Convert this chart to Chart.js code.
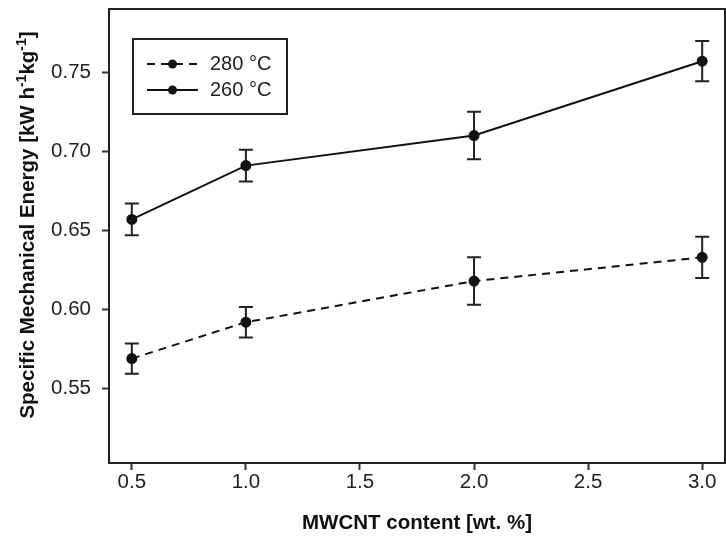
<!DOCTYPE html>
<html>
<head>
<meta charset="utf-8">
<script src="https://cdn.jsdelivr.net/npm/chart.js@4.4.1/dist/chart.umd.min.js"></script>
<style>
  html, body { margin: 0; padding: 0; background: #fff; }
  #wrap { width: 726px; height: 537px; }
</style>
</head>
<body>
<div id="wrap"><canvas id="c" width="726" height="537"></canvas></div>
<script>
// MWCNT loading (wt. %)
const mwcnt = [0.5, 1.0, 2.0, 3.0];
// Specific mechanical energy and standard deviation at each barrel temperature
const sme280 = [0.569, 0.592, 0.618, 0.633];
const err280 = [0.0096, 0.0096, 0.015, 0.013];
const sme260 = [0.657, 0.691, 0.710, 0.757];
const err260 = [0.010, 0.010, 0.015, 0.0127];
const seriesLabels = ['280 \u00B0C', '260 \u00B0C'];
const xTicks = [0.5, 1.0, 1.5, 2.0, 2.5, 3.0];
const yTicks = [0.55, 0.60, 0.65, 0.70, 0.75];
// y-axis title pieces: [text, superscript?]
const yTitleParts = [['Specific Mechanical Energy [kW h', false], ['-1', true], ['kg', false], ['-1', true], [']', false]];

const FONT = '"Liberation Sans", Arial, sans-serif';
const INK = '#111';

const toPoints = (vals, errs) => mwcnt.map((x, i) => ({ x: x, y: vals[i], err: errs[i] }));

// vertical error bars with caps, drawn under the markers
const errorBars = {
  id: 'errorBars',
  beforeDatasetsDraw(chart) {
    const { ctx, scales: { x, y } } = chart;
    ctx.save();
    ctx.strokeStyle = '#222';
    ctx.lineWidth = 2;
    chart.data.datasets.forEach(ds => {
      ds.data.forEach(p => {
        const px = x.getPixelForValue(p.x);
        const top = y.getPixelForValue(p.y + p.err);
        const bot = y.getPixelForValue(p.y - p.err);
        ctx.beginPath();
        ctx.moveTo(px, top); ctx.lineTo(px, bot);
        ctx.moveTo(px - 7, top); ctx.lineTo(px + 7, top);
        ctx.moveTo(px - 7, bot); ctx.lineTo(px + 7, bot);
        ctx.stroke();
      });
    });
    ctx.restore();
  }
};

// closed frame around the plotting area
const frame = {
  id: 'frame',
  afterDraw(chart) {
    const { ctx, chartArea: a } = chart;
    ctx.save();
    ctx.strokeStyle = '#222';
    ctx.lineWidth = 2;
    ctx.strokeRect(a.left, a.top, a.right - a.left, a.bottom - a.top);
    ctx.restore();
  }
};

// rotated y-axis title with superscript units
const yTitle = {
  id: 'yTitle',
  afterDraw(chart) {
    const { ctx, chartArea: a } = chart;
    const size = 20.5, sup = 14;
    ctx.save();
    ctx.fillStyle = '#111';
    ctx.textBaseline = 'alphabetic';
    const widths = yTitleParts.map(([t, s]) => {
      ctx.font = 'bold ' + (s ? sup : size) + 'px ' + FONT;
      return ctx.measureText(t).width;
    });
    const total = widths.reduce((p, w) => p + w, 0);
    ctx.translate(27 + size * 0.36, a.top + (a.bottom - a.top) / 2 - 11);
    ctx.rotate(-Math.PI / 2);
    let cx = -total / 2;
    yTitleParts.forEach(([t, s], i) => {
      ctx.font = 'bold ' + (s ? sup : size) + 'px ' + FONT;
      ctx.fillText(t, cx, s ? -size * 0.42 : 0);
      cx += widths[i];
    });
    ctx.restore();
  }
};

// boxed legend with line + marker samples
const boxLegend = {
  id: 'boxLegend',
  afterDraw(chart) {
    const { ctx, chartArea: a } = chart;
    const bx = a.left + 24, by = a.top + 30, bw = 154, bh = 75;
    ctx.save();
    ctx.fillStyle = '#fff';
    ctx.fillRect(bx, by, bw, bh);
    ctx.strokeStyle = '#222';
    ctx.lineWidth = 2;
    ctx.strokeRect(bx, by, bw, bh);
    chart.data.datasets.forEach((ds, i) => {
      const yy = by + 25 + i * 26;
      const x0 = bx + 14, x1 = bx + 65;
      ctx.strokeStyle = ds.borderColor;
      ctx.lineWidth = ds.borderWidth;
      ctx.setLineDash(ds.borderDash || []);
      ctx.beginPath(); ctx.moveTo(x0, yy); ctx.lineTo(x1, yy); ctx.stroke();
      ctx.setLineDash([]);
      ctx.fillStyle = ds.pointBackgroundColor;
      ctx.beginPath(); ctx.arc((x0 + x1) / 2, yy, ds.pointRadius, 0, Math.PI * 2); ctx.fill();
      ctx.fillStyle = '#222';
      ctx.font = '20px ' + FONT;
      ctx.textBaseline = 'middle';
      ctx.fillText(ds.label, bx + 77, yy);
    });
    ctx.restore();
  }
};

new Chart(document.getElementById('c'), {
  type: 'line',
  data: {
    datasets: [
      {
        label: seriesLabels[0],
        data: toPoints(sme280, err280),
        borderColor: INK, borderWidth: 2, borderDash: [8, 6],
        pointRadius: 4.5, pointBackgroundColor: INK, pointBorderColor: INK
      },
      {
        label: seriesLabels[1],
        data: toPoints(sme260, err260),
        borderColor: INK, borderWidth: 2,
        pointRadius: 4.5, pointBackgroundColor: INK, pointBorderColor: INK
      }
    ]
  },
  options: {
    responsive: false,
    animation: false,
    layout: { autoPadding: false, padding: { left: 0, right: 1, top: 9, bottom: 0 } },
    plugins: { legend: { display: false }, tooltip: { enabled: false } },
    scales: {
      x: {
        type: 'linear',
        min: 0.4, max: 3.1,
        afterBuildTicks: s => { s.ticks = xTicks.map(v => ({ value: v })); },
        afterFit: s => { s.height = 74; s.paddingLeft = 0; s.paddingRight = 0; },
        grid: { drawOnChartArea: false, drawTicks: true, tickLength: 7, tickWidth: 2, color: '#333' },
        border: { display: false },
        ticks: { color: '#222', font: { family: FONT, size: 20.5 }, padding: 0, callback: v => v.toFixed(1) },
        title: { display: true, text: 'MWCNT content [wt. %]', color: '#111', font: { family: FONT, size: 20.5, weight: 'bold' }, padding: { top: 4, bottom: 1 } }
      },
      y: {
        min: 0.503, max: 0.79,
        afterBuildTicks: s => { s.ticks = yTicks.map(v => ({ value: v })); },
        afterFit: s => { s.width = 109; s.paddingTop = 0; s.paddingBottom = 0; },
        grid: { drawOnChartArea: false, drawTicks: true, tickLength: 7, tickWidth: 2, color: '#333' },
        border: { display: false },
        ticks: { color: '#222', font: { family: FONT, size: 20.5 }, padding: 11, callback: v => v.toFixed(2) },
        title: { display: false }
      }
    }
  },
  plugins: [errorBars, frame, yTitle, boxLegend]
});
</script>
</body>
</html>
